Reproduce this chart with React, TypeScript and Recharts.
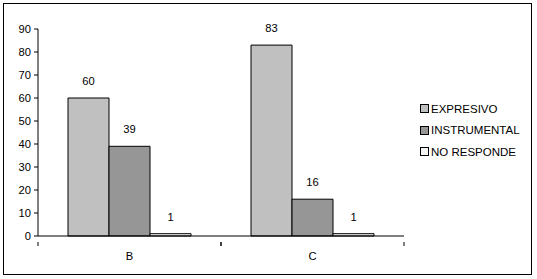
import React from 'react';
import { BarChart, Bar, XAxis, YAxis, LabelList, Legend } from 'recharts';

const categories = ['B', 'C'];
const expresivo = [60, 83];
const instrumental = [39, 16];
const noResponde = [1, 1];
const yTicks = [0, 10, 20, 30, 40, 50, 60, 70, 80, 90];

const data = categories.map((c, i) => ({
  name: c,
  EXPRESIVO: expresivo[i],
  INSTRUMENTAL: instrumental[i],
  'NO RESPONDE': noResponde[i],
}));

const FONT = '"Liberation Sans", Arial, sans-serif';

const XTick = (props: any) => {
  const { x, y, payload } = props;
  const off = payload && typeof payload.offset === 'number' && payload.offset > 0 ? payload.offset : 91.5;
  const axisY = y - 2;
  return (
    <g>
      <line x1={x - off} y1={axisY} x2={x - off} y2={axisY + 4} stroke="#000" />
      <line x1={x + off} y1={axisY} x2={x + off} y2={axisY + 4} stroke="#000" />
      <text x={x} y={axisY + 18} textAnchor="middle" fontSize={11.2} fontFamily={FONT} fill="#000">
        {payload.value}
      </text>
    </g>
  );
};

const LegendContent = (props: any) => {
  const { payload } = props;
  return (
    <div style={{ fontFamily: FONT, fontSize: 11.5, color: '#000' }}>
      {(payload || []).map((p: any) => (
        <div key={p.value} style={{ display: 'flex', alignItems: 'center', height: 21.5 }}>
          <span
            style={{
              display: 'inline-block',
              width: 7,
              height: 7,
              border: '1px solid #000',
              background: p.color,
              marginRight: 2,
            }}
          />
          <span>{p.value}</span>
        </div>
      ))}
    </div>
  );
};

export default function App() {
  return (
    <div style={{ position: 'absolute', left: 0, top: 0, width: 537, height: 279, background: '#fff' }}>
      <div
        style={{
          position: 'absolute',
          left: 3,
          top: 3,
          width: 527,
          height: 270,
          border: '1px solid #000',
        }}
      />
      <div style={{ position: 'absolute', left: 0, top: 0 }}>
        <BarChart
          width={537}
          height={279}
          data={data}
          margin={{ top: 29, right: 133, bottom: 0, left: 0 }}
          barCategoryGap="16.4%"
          barGap={0}
        >
          <YAxis
            width={38}
            domain={[0, 90]}
            ticks={yTicks}
            interval={0}
            tickSize={4}
            tickMargin={3}
            axisLine={{ stroke: '#000' }}
            tickLine={{ stroke: '#000' }}
            tick={{ fontSize: 11.2, fontFamily: FONT, fill: '#000' }}
          />
          <XAxis
            dataKey="name"
            axisLine={{ stroke: '#000' }}
            tickLine={false}
            tickMargin={2}
            tick={<XTick />}
            height={43}
          />
          <Legend
            layout="vertical"
            verticalAlign="middle"
            align="center"
            content={<LegendContent />}
            wrapperStyle={{ position: 'absolute', left: 420, top: 98, width: 115 }}
          />
          <Bar dataKey="EXPRESIVO" fill="#C0C0C0" stroke="#000" strokeWidth={1} isAnimationActive={false}>
            <LabelList dataKey="EXPRESIVO" position="top" offset={13} fontSize={11.2} fontFamily={FONT} fill="#000" />
          </Bar>
          <Bar dataKey="INSTRUMENTAL" fill="#969696" stroke="#000" strokeWidth={1} isAnimationActive={false}>
            <LabelList dataKey="INSTRUMENTAL" position="top" offset={13} fontSize={11.2} fontFamily={FONT} fill="#000" />
          </Bar>
          <Bar dataKey="NO RESPONDE" fill="#F4F4F4" stroke="#000" strokeWidth={1} isAnimationActive={false}>
            <LabelList dataKey="NO RESPONDE" position="top" offset={13} fontSize={11.2} fontFamily={FONT} fill="#000" />
          </Bar>
        </BarChart>
      </div>
    </div>
  );
}
